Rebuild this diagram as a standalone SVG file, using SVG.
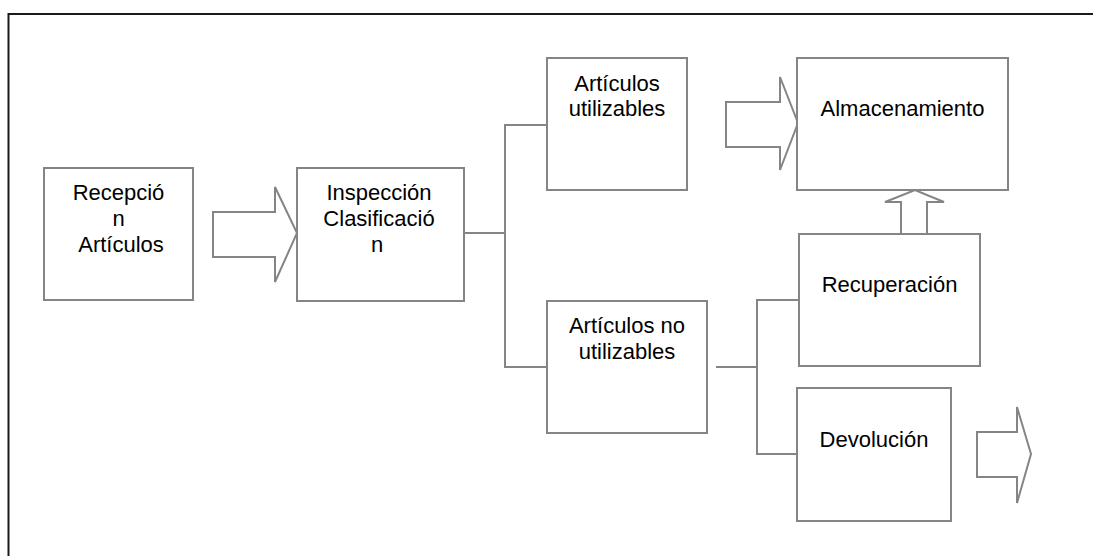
<svg xmlns="http://www.w3.org/2000/svg" width="1093" height="556" viewBox="0 0 1093 556">
  <defs>
    <style>
      .frame { fill: none; stroke: #1a1a1a; stroke-width: 2; }
      .box { fill: #ffffff; stroke: #858585; stroke-width: 2; }
      .wire { fill: none; stroke: #858585; stroke-width: 2; }
      .flow { fill: #ffffff; stroke: #858585; stroke-width: 2; stroke-linejoin: miter; }
      .label { font-family: "Liberation Sans", Arial, sans-serif; font-size: 22px; fill: #000000; text-anchor: middle; }
    </style>
  </defs>
  <rect width="1093" height="556" fill="#ffffff"/>
  <!-- page frame: only top and left edges fall inside the view -->
  <path class="frame" d="M8.5,556 V14 H1093"/>

  <g id="connectors">
    <!-- Inspección branches to both article groups -->
    <path class="wire" d="M464,233 H505"/>
    <path class="wire" d="M547,125 H505 V367 H547"/>
    <!-- Artículos no utilizables branches to recovery and return -->
    <path class="wire" d="M716,367 H757"/>
    <path class="wire" d="M799,300 H757 V454 H797"/>
  </g>

  <g id="flow-arrows">
    <path id="arrow-recepcion-inspeccion" class="flow" d="M213,212 H275 V187 L297,233 L275,282 V257 H213 Z"/>
    <path id="arrow-utilizables-almacen" class="flow" d="M726,102 H780 V77 L798,123 L780,170 V147 H726 Z"/>
    <path id="arrow-recuperacion-almacen" class="flow" d="M901,234 V202 H885 L915,190 L944,202 H927 V234 Z"/>
    <path id="arrow-devolucion-out" class="flow" d="M977,432 H1017 V407 L1031,454 L1017,503 V477 H977 Z"/>
  </g>

  <g id="node-recepcion">
    <rect class="box" x="44" y="168" width="149" height="132"/>
    <text class="label" x="118.5" y="200">Recepció</text>
    <text class="label" x="118.5" y="226">n</text>
    <text class="label" x="121" y="252">Artículos</text>
  </g>

  <g id="node-inspeccion">
    <rect class="box" x="297" y="168" width="167" height="133"/>
    <text class="label" x="379" y="200">Inspección</text>
    <text class="label" x="379" y="226">Clasificació</text>
    <text class="label" x="377" y="252">n</text>
  </g>

  <g id="node-utilizables">
    <rect class="box" x="547" y="58" width="140" height="132"/>
    <text class="label" x="617" y="91">Artículos</text>
    <text class="label" x="617" y="116">utilizables</text>
  </g>

  <g id="node-no-utilizables">
    <rect class="box" x="547" y="301" width="160" height="132"/>
    <text class="label" x="627" y="333">Artículos no</text>
    <text class="label" x="627" y="359">utilizables</text>
  </g>

  <g id="node-almacenamiento">
    <rect class="box" x="797" y="58" width="211" height="132"/>
    <text class="label" x="902.5" y="116">Almacenamiento</text>
  </g>

  <g id="node-recuperacion">
    <rect class="box" x="799" y="234" width="181" height="132"/>
    <text class="label" x="889.5" y="292">Recuperación</text>
  </g>

  <g id="node-devolucion">
    <rect class="box" x="797" y="388" width="154" height="133"/>
    <text class="label" x="874" y="447">Devolución</text>
  </g>
</svg>
